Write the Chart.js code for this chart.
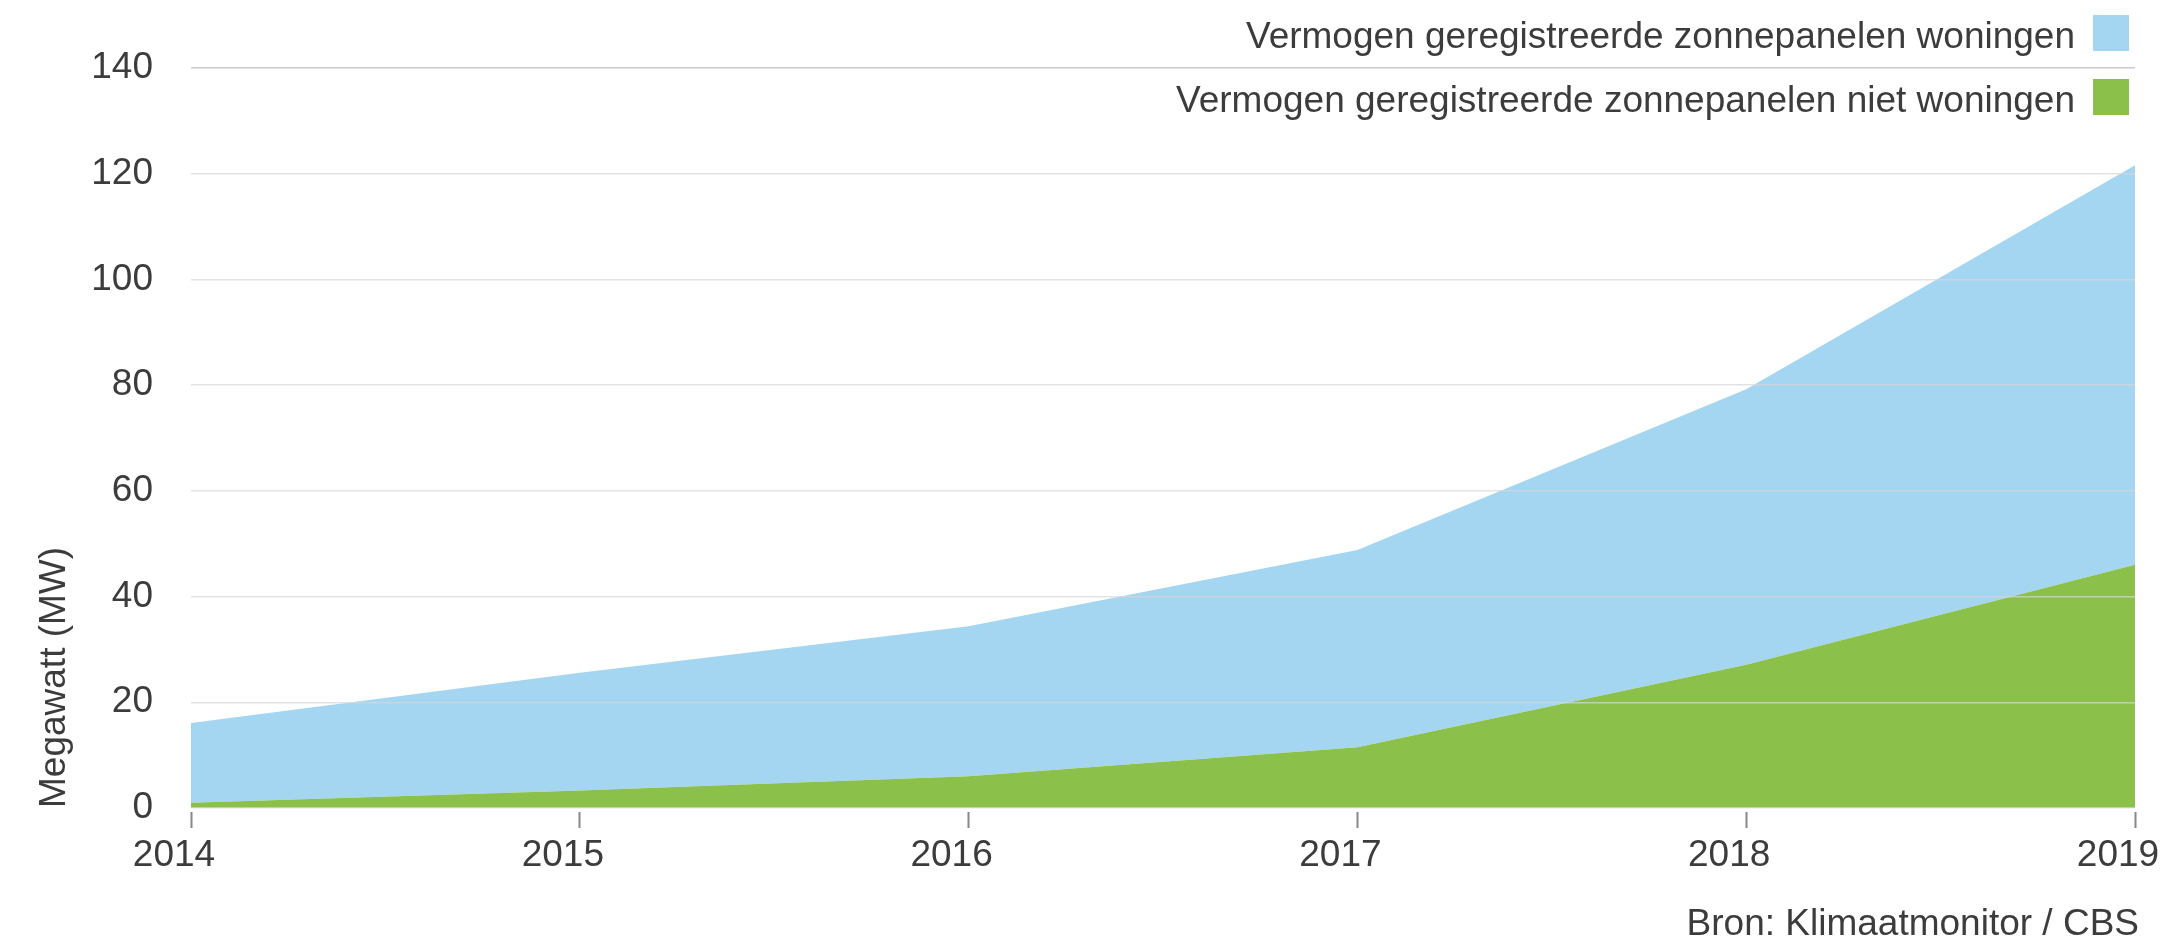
<!DOCTYPE html>
<html>
<head>
<meta charset="utf-8">
<script src="https://cdn.jsdelivr.net/npm/chart.js@4.4.1/dist/chart.umd.min.js"></script>
<style>
  body { margin: 0; background: #fff; }
  #wrap { position: relative; width: 2166px; height: 942px; font-family: 'Liberation Sans', Arial, sans-serif; color: #3c3c3c; }
  .legend-row { position: absolute; right: 37px; height: 36px; display: flex; align-items: center; font-size: 37px; white-space: nowrap; }
  .legend-row .box { width: 36px; height: 36px; margin-left: 18px; }
  .legend-row .txt { position: relative; top: 3px; }
  #source { position: absolute; right: 27px; top: 903px; font-size: 37px; line-height: 40px; }
</style>
</head>
<body>
<div id="wrap">
  <canvas id="myChart"></canvas>
  <div class="legend-row" style="top:15px"><span class="txt">Vermogen geregistreerde zonnepanelen woningen</span><span class="box" style="background:#a5d6f1"></span></div>
  <div class="legend-row" style="top:79px"><span class="txt">Vermogen geregistreerde zonnepanelen niet woningen</span><span class="box" style="background:#8bc14b"></span></div>
  <div id="source">Bron: Klimaatmonitor / CBS</div>
</div>
<script>
// data (MW)
const years = ['2014', '2015', '2016', '2017', '2018', '2019'];
const nietWoningen = [1.0, 3.3, 6.0, 11.5, 27.1, 46.0];
const woningen = [15.1, 22.3, 28.4, 37.3, 52.1, 75.6];
const yMin = 0, yMax = 140, yStep = 20;

const labelFont = { family: "'Liberation Sans', Arial, sans-serif", size: 37 };

document.addEventListener("DOMContentLoaded", function () {
    const ctx = document.getElementById('myChart').getContext('2d');

    const myChart = new Chart(ctx, {
        type: 'line',
        data: {
            labels: years,
            datasets: [{
                label: 'Vermogen geregistreerde zonnepanelen niet woningen',
                data: nietWoningen,
                backgroundColor: '#8bc14b',
                borderWidth: 0,
                pointRadius: 0,
                fill: 'origin'
            }, {
                label: 'Vermogen geregistreerde zonnepanelen woningen',
                data: woningen,
                backgroundColor: '#a5d6f1',
                borderWidth: 0,
                pointRadius: 0,
                fill: '-1'
            }]
        },
        options: {
            responsive: true,
            maintainAspectRatio: false,
            animation: false,
            layout: { padding: { top: 68, right: 31, bottom: 0, left: 0 } },
            plugins: {
                legend: { display: false },
                tooltip: { enabled: false }
            },
            elements: { line: { tension: 0 } },
            scales: {
                x: {
                    grid: {
                        drawOnChartArea: false,
                        tickLength: 20,
                        tickColor: '#888',
                        tickWidth: 2,
                        tickBorderDash: [0, 4, 16, 100] // small gap below the axis
                    },
                    border: { display: false },
                    ticks: {
                        font: labelFont,
                        color: '#3c3c3c',
                        padding: 6,
                        labelOffset: -17,
                        maxRotation: 0,
                        autoSkip: false
                    },
                    afterFit: function (scale) {
                        scale.height = 134;
                        scale.paddingLeft = 0;
                        scale.paddingRight = 0;
                    }
                },
                y: {
                    stacked: true,
                    min: yMin,
                    max: yMax,
                    grid: {
                        z: 1,
                        drawTicks: false,
                        color: function (c) {
                            return c.tick && c.tick.value === yMax ? '#cccccc' : 'rgba(215,215,215,0.7)';
                        },
                        lineWidth: 1.5
                    },
                    border: { display: false },
                    ticks: {
                        stepSize: yStep,
                        font: labelFont,
                        color: '#3c3c3c',
                        padding: 38
                    },
                    title: {
                        display: true,
                        text: 'Megawatt (MW)',
                        align: 'start',
                        font: labelFont,
                        color: '#3c3c3c',
                        padding: { top: 33, bottom: 0 }
                    },
                    afterFit: function (scale) {
                        scale.width = 191;
                        scale.paddingTop = 0;
                        scale.paddingBottom = 0;
                    }
                }
            }
        }
    });
});
</script>
</body>
</html>
